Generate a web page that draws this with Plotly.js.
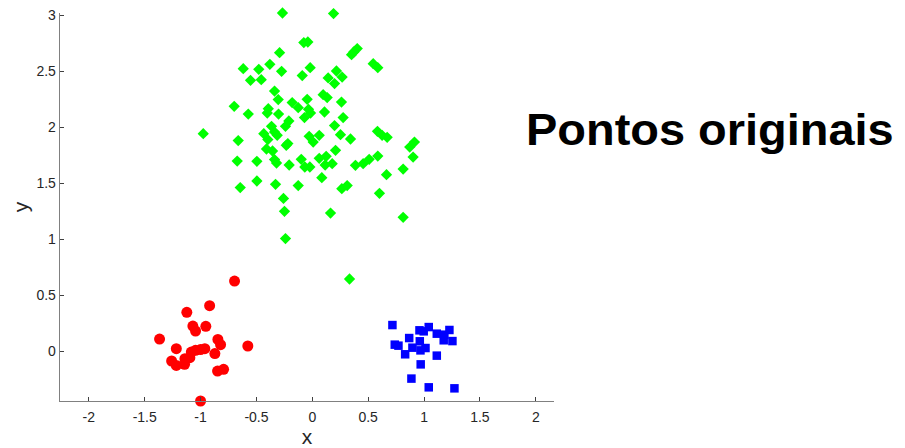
<!DOCTYPE html>
<html>
<head>
<meta charset="utf-8">
<script src="https://cdn.plot.ly/plotly-3.0.1.min.js"></script>
<style>
html,body{margin:0;padding:0;background:#fff;}
#chart{width:905px;height:448px;}
.annotation-text{transform-box:fill-box;transform-origin:50% 50%;transform:scaleX(1.067);}
</style>
</head>
<body>
<div id="chart"></div>
<script>
// Green cluster (diamonds)
const greenX = [-0.267,0.190,-0.076,-0.040,-0.293,0.351,0.371,0.402,-0.618,-0.479,-0.380,-0.275,-0.019,-0.090,-0.553,-0.457,0.545,0.586,0.142,0.216,0.267,0.199,-0.338,-0.305,-0.046,0.097,0.133,0.261,-0.699,-0.573,-0.394,-0.403,-0.302,-0.180,-0.126,-0.034,-0.070,-0.016,0.109,0.276,-0.210,-0.240,-0.365,-0.338,-0.434,-0.314,-0.976,-0.663,-0.398,-0.410,-0.356,-0.233,-0.219,-0.028,0.008,0.062,0.199,0.252,0.342,0.583,0.625,0.670,0.872,0.914,0.902,0.813,-0.672,-0.496,-0.338,-0.320,-0.207,-0.099,-0.067,-0.022,0.062,0.124,0.115,0.178,0.208,0.386,0.455,0.509,0.586,0.664,-0.645,-0.496,-0.329,-0.126,0.085,0.264,0.312,0.601,-0.258,-0.249,0.163,0.813,-0.240,0.333];
const greenY = [3.018,3.013,2.754,2.759,2.664,2.646,2.670,2.700,2.521,2.515,2.560,2.497,2.530,2.459,2.417,2.423,2.566,2.530,2.438,2.500,2.446,2.388,2.321,2.245,2.247,2.289,2.263,2.223,2.185,2.116,2.164,2.125,2.116,2.218,2.173,2.158,2.084,2.125,2.134,2.084,2.054,2.006,2.006,1.955,1.941,1.926,1.941,1.879,1.888,1.804,1.786,1.837,1.852,1.917,1.866,1.926,2.013,1.932,1.893,1.962,1.926,1.908,1.821,1.866,1.732,1.625,1.696,1.694,1.709,1.679,1.661,1.712,1.643,1.643,1.721,1.738,1.661,1.673,1.792,1.658,1.673,1.712,1.741,1.575,1.459,1.518,1.488,1.477,1.548,1.450,1.477,1.408,1.363,1.247,1.232,1.194,1.004,0.643];
// Red cluster (circles)
const redX = [-0.696,-0.919,-1.123,-1.069,-1.045,-0.953,-1.367,-0.845,-0.821,-0.577,-1.217,-1.083,-1.045,-1.000,-0.962,-0.872,-1.259,-1.217,-1.143,-1.140,-1.096,-0.848,-0.794,-1.000];
const redY = [0.625,0.405,0.346,0.223,0.179,0.221,0.107,0.104,0.057,0.045,0.021,-0.009,0.006,0.013,0.021,-0.023,-0.089,-0.128,-0.119,-0.068,-0.059,-0.179,-0.163,-0.446];
// Blue cluster (squares)
const blueX = [0.717,0.959,0.997,1.042,1.114,1.182,1.227,1.176,1.254,0.867,0.738,0.771,0.896,0.962,0.968,1.013,0.831,1.114,0.970,0.887,1.042,1.272];
const blueY = [0.232,0.185,0.176,0.214,0.155,0.146,0.188,0.096,0.089,0.116,0.057,0.048,0.030,0.087,0.006,0.027,-0.029,-0.041,-0.119,-0.246,-0.324,-0.333];

const xTicks = [-2,-1.5,-1,-0.5,0,0.5,1,1.5,2];
const xTickText = ["-2","-1.5","-1","-0.5","0","0.5","1","1.5","2"];
const yTicks = [0,0.5,1,1.5,2,2.5,3];
const yTickText = ["0","0.5","1","1.5","2","2.5","3"];
const chartTitle = "Pontos originais";

const FONT = "Liberation Sans, Arial, Helvetica, sans-serif";

const traces = [
  {x: greenX, y: greenY, type: 'scatter', mode: 'markers', cliponaxis: false,
   marker: {symbol: 'diamond', size: 8.7, color: '#00ff00', line: {width: 0}}},
  {x: redX, y: redY, type: 'scatter', mode: 'markers', cliponaxis: false,
   marker: {symbol: 'circle', size: 11, color: '#ff0000', line: {width: 0}}},
  {x: blueX, y: blueY, type: 'scatter', mode: 'markers', cliponaxis: false,
   marker: {symbol: 'square', size: 8.5, color: '#0000ff', line: {width: 0}}}
];

const axisCommon = {
  showgrid: false, zeroline: false, showline: true,
  linecolor: '#808080', linewidth: 1.3,
  ticks: 'inside', ticklen: 4, tickwidth: 1, tickcolor: '#404040',
  tickfont: {family: FONT, size: 14, color: '#262626'},
  fixedrange: true
};

const layout = {
  width: 905, height: 448,
  margin: {l: 60, r: 351.4, t: 12.7, b: 47.3, pad: 0},
  paper_bgcolor: '#ffffff', plot_bgcolor: '#ffffff',
  showlegend: false,
  xaxis: Object.assign({}, axisCommon, {
    range: [-2.258, 2.163], tickvals: xTicks, ticktext: xTickText,
    ticklabelstandoff: 3,
    title: {text: 'x', font: {family: FONT, size: 21, color: '#262626'}, standoff: 6}
  }),
  yaxis: Object.assign({}, axisCommon, {
    range: [-0.446, 3.018], tickvals: yTicks, ticktext: yTickText,
    title: {text: 'y', font: {family: FONT, size: 21, color: '#262626'}, standoff: 2}
  }),
  annotations: [{
    text: chartTitle, xref: 'paper', yref: 'paper', x: 1.3148, y: 0.6987,
    xanchor: 'center', yanchor: 'middle', showarrow: false,
    font: {family: FONT, size: 44, color: '#000000', weight: 'bold'}
  }]
};

Plotly.newPlot('chart', traces, layout, {staticPlot: true, displayModeBar: false});
</script>
</body>
</html>
